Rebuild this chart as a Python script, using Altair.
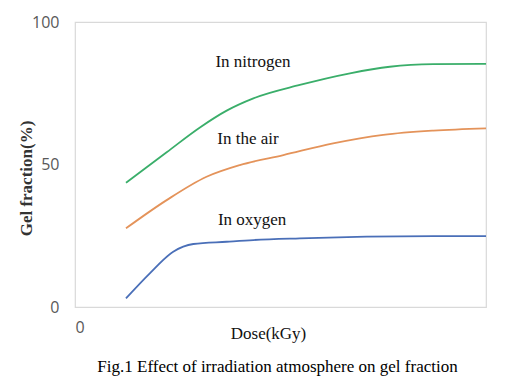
import altair as alt
import pandas as pd

# (dose in arbitrary units 0..100 across the plot)
n2_dose = [12.4, 22.3, 30.4, 36.9, 43.4, 54.7, 66.9, 76.6, 87.2, 100]
n2_gel = [43.6, 54.3, 63.0, 68.9, 73.2, 77.9, 82.0, 84.3, 85.2, 85.3]

air_dose = [12.4, 22.3, 32.0, 40.1, 50.7, 62.8, 75.0, 87.2, 100]
air_gel = [27.6, 37.5, 45.7, 49.8, 53.3, 57.4, 60.4, 61.9, 62.7]

o2_dose = [12.4, 18.2, 23.9, 28.8, 36.9, 43.4, 54.7, 70.9, 87.2, 100]
o2_gel = [3.0, 11.8, 19.4, 22.1, 22.9, 23.5, 24.1, 24.7, 24.9, 24.9]

series_names = ["In nitrogen", "In the air", "In oxygen"]
series_colors = ["#3aae6a", "#e4935a", "#4a6fb8"]

label_text = ["In nitrogen", "In the air", "In oxygen"]
label_dose = [43.3, 42.1, 43.1]
label_gel = [86.0, 59.0, 30.5]

rows = []
for name, xs, ys in zip(series_names, [n2_dose, air_dose, o2_dose], [n2_gel, air_gel, o2_gel]):
    for x, y in zip(xs, ys):
        rows.append({"series": name, "dose": x, "gel": y})
df = pd.DataFrame(rows)
labels = pd.DataFrame({"text": label_text, "dose": label_dose, "gel": label_gel})

x_scale = alt.Scale(domain=[0, 100], nice=False, zero=False)
y_scale = alt.Scale(domain=[0, 100], nice=False)

lines = alt.Chart(df).mark_line(strokeWidth=1.8, interpolate="monotone").encode(
    x=alt.X("dose:Q", scale=x_scale,
            axis=alt.Axis(values=[0], title="Dose(kGy)", grid=False, domain=False, ticks=False,
                          labelFont="Open Sans", labelFontSize=16, labelColor="#595959",
                          labelPadding=12, titleFont="Liberation Serif", titleFontSize=17,
                          titleFontWeight=400, titleColor="#111111", titleY=26,
                          titleBaseline="middle", titleX=193)),
    y=alt.Y("gel:Q", scale=y_scale,
            axis=alt.Axis(values=[0, 50, 100], title="Gel fraction(%)", grid=False, domain=False,
                          ticks=False, labelFont="Open Sans", labelFontSize=16,
                          labelColor="#595959", labelPadding=16,
                          titleFont="Liberation Serif", titleFontSize=17, titleFontWeight="bold",
                          titleColor="#333333", titleX=-49, titleY=156,
                          titleBaseline="middle", titleAlign="center")),
    color=alt.Color("series:N", scale=alt.Scale(domain=series_names, range=series_colors),
                    legend=None),
)

texts = alt.Chart(labels).mark_text(font="Liberation Serif", fontSize=17, color="#111111").encode(
    x=alt.X("dose:Q", scale=x_scale),
    y=alt.Y("gel:Q", scale=y_scale),
    text="text:N",
)

chart = alt.layer(lines, texts).properties(
    width=411, height=285,
    padding={"left": 67, "top": 14, "right": 20, "bottom": 70},
    autosize=alt.AutoSizeParams(type="none"),
    title=alt.TitleParams("Fig.1 Effect of irradiation atmosphere on gel fraction",
                          orient="bottom", font="Liberation Serif", fontSize=17,
                          fontWeight="normal", color="#000000", offset=18, dx=-3),
).configure_view(stroke="#d9d9d9", strokeWidth=1.2)

chart.save("out.html", embed_options={"renderer": "svg", "actions": False})
